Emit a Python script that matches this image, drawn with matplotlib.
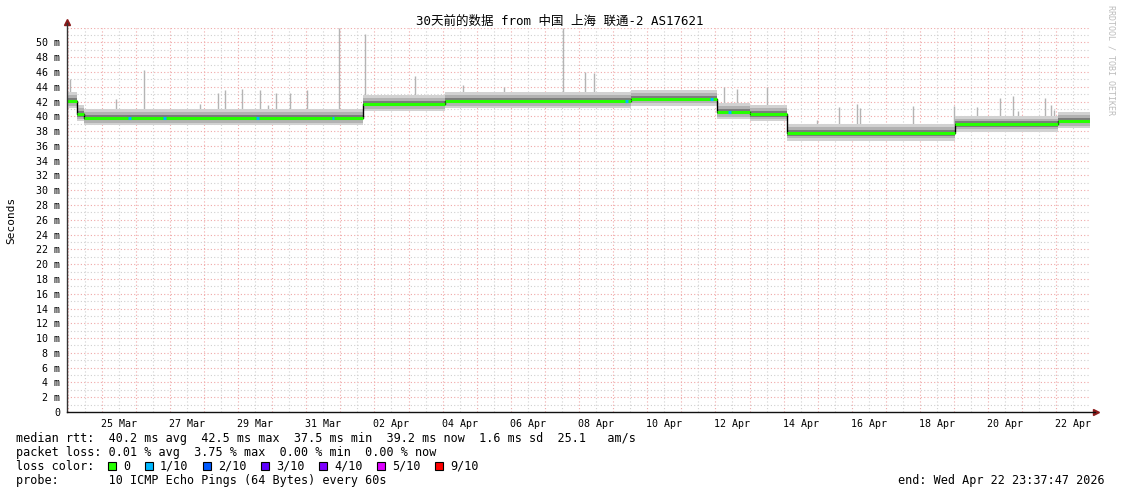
import matplotlib
matplotlib.use('Agg')
import matplotlib.pyplot as plt
import matplotlib.dates as mdates
from matplotlib.patches import Rectangle
from datetime import datetime, timedelta
import numpy as np

# fontes: monoespaçada + fallback CJK para o título
plt.rcParams['font.family'] = ['DejaVu Sans Mono', 'Noto Sans CJK SC']

W, H = 1121, 494
inicio = datetime(2026, 3, 23, 23, 37, 47)
dias_total = 30

# mediana em degraus: dia (a partir do início) e valor em ms
seg_dia = [0.0, 0.30, 0.50, 8.68, 11.08, 16.53, 19.05, 20.04, 21.10, 26.04, 29.06]
seg_mediana = [42.1, 40.3, 39.8, 41.7, 42.1, 42.4, 40.6, 40.3, 37.7, 38.9, 39.4]

# picos isolados (dia, ms)
pico_dia = [0.08, 1.45, 2.27, 3.91, 4.44, 4.64, 5.14, 5.67, 5.90, 6.13, 6.54, 7.04,
            7.98, 8.74, 10.20, 11.61, 12.81, 14.54, 15.18, 15.45, 19.28, 19.66,
            20.54, 22.00, 22.65, 23.18, 23.26, 24.81, 26.02, 26.69, 27.36, 27.74,
            27.89, 28.68, 28.86, 28.94]
pico_ms = [45.0, 42.3, 46.2, 41.6, 43.2, 43.5, 43.7, 43.5, 41.5, 43.1, 43.1, 43.5,
           52.0, 51.1, 45.5, 44.2, 44.0, 52.0, 46.0, 45.8, 44.0, 43.7,
           44.0, 39.5, 41.2, 41.7, 41.1, 41.4, 41.4, 41.2, 42.5, 42.8,
           40.7, 42.5, 41.5, 40.8]

# pontos com perda 1/10
perda_dia = [1.83, 2.86, 5.58, 7.80, 16.41, 18.90, 19.43]

cores_perda = ['#26ff00', '#00b8ff', '#0059ff', '#5e00ff', '#7e00ff', '#dd00ff', '#ff0000']
nomes_perda = ['0', '1/10', '2/10', '3/10', '4/10', '5/10', '9/10']


def para_data(d):
    return mdates.date2num(inicio + timedelta(days=d))


def mediana_em(d):
    return seg_mediana[np.searchsorted(seg_dia, d, side='right') - 1]


fig = plt.figure(figsize=(W / 100, H / 100), dpi=100)
ax = fig.add_axes([67 / W, (H - 412) / H, 1023 / W, 384.4 / H])

x_bordas = np.array([para_data(d) for d in seg_dia + [dias_total]])
med = np.array(seg_mediana + [seg_mediana[-1]])

# picos (atrás da fumaça)
ax.vlines([para_data(d) for d in pico_dia], [mediana_em(d) for d in pico_dia], pico_ms,
          color='#b4b4b4', lw=1, zorder=1)

# fumaça
ax.fill_between(x_bordas, med - 1.0, med + 1.2, step='post', color='#d2d2d2', lw=0, zorder=2)
ax.fill_between(x_bordas, med - 0.65, med + 0.8, step='post', color='#b2b2b2', lw=0, zorder=3)
ax.fill_between(x_bordas, med - 0.35, med + 0.4, step='post', color='#7c7c7c', lw=0, zorder=4)

# mediana: linha preta + segmentos verdes
ax.step(x_bordas, med, where='post', color='black', lw=1, zorder=5)
ax.hlines(seg_mediana, x_bordas[:-1], x_bordas[1:], color=cores_perda[0], lw=2.2, zorder=6)
for d in perda_dia:
    m = mediana_em(d)
    ax.hlines(m, para_data(d - 0.04), para_data(d + 0.04), color=cores_perda[1], lw=2.2, zorder=7)

ax.set_xlim(para_data(0), para_data(dias_total))
ax.set_ylim(0, 52)

# grade
for d in range(24, 54):
    dt = datetime(2026, 3, 1) + timedelta(days=d - 1)
    ax.axvline(mdates.date2num(dt), color='#f0a8a8', lw=0.8, ls=(0, (1, 2)), zorder=0)
    ax.axvline(mdates.date2num(dt + timedelta(hours=12)), color='#d0d0d0', lw=0.8, ls=(0, (1, 2)), zorder=0)
for v in range(1, 53):
    cor = '#f0a8a8' if v % 2 == 0 else '#d0d0d0'
    ax.axhline(v, color=cor, lw=0.8, ls=(0, (1, 2)), zorder=0)

# eixos
for s in ax.spines.values():
    s.set_visible(False)
ax.plot([0, 0], [0, 1.012], transform=ax.transAxes, color='#333333', lw=1, clip_on=False, zorder=8)
ax.plot([0, 1.005], [0, 0], transform=ax.transAxes, color='#111111', lw=1, clip_on=False, zorder=8)
ax.plot([0], [1.015], transform=ax.transAxes, marker='^', ms=5, color='#8b1a1a', clip_on=False)
ax.plot([1.006], [0], transform=ax.transAxes, marker='>', ms=5, color='#8b1a1a', clip_on=False)

yt = list(range(0, 52, 2))
ax.set_yticks(yt)
ax.set_yticklabels(['0' if v == 0 else f'{v} m' for v in yt], fontsize=7.2)
rot = [datetime(2026, 3, 25, 12) + timedelta(days=2 * k) for k in range(15)]
ax.set_xticks([mdates.date2num(r) for r in rot])
ax.set_xticklabels([r.strftime('%d %b') for r in rot], fontsize=7.2)
ax.tick_params(axis='both', length=0, pad=5)
fig.text(11 / W, 1 - 220 / H, 'Seconds', rotation=90, ha='center', va='center', fontsize=8)

# título
fig.text(560 / W, 1 - 21 / H, '30天前的数据 from 中国 上海 联通-2 AS17621',
         ha='center', va='center', fontsize=9)

# marca d'água
fig.text(1111 / W, 1 - 60 / H, 'RRDTOOL / TOBI OETIKER', rotation=270,
         ha='center', va='center', fontsize=6, color='#bcbcbc')

# legenda inferior
fs = 8.5
fig.text(16 / W, 1 - 438 / H,
         'median rtt:  40.2 ms avg  42.5 ms max  37.5 ms min  39.2 ms now  1.6 ms sd  25.1   am/s',
         va='center', fontsize=fs)
fig.text(16 / W, 1 - 452 / H,
         'packet loss: 0.01 % avg  3.75 % max  0.00 % min  0.00 % now',
         va='center', fontsize=fs)
fig.text(16 / W, 1 - 466 / H, 'loss color:', va='center', fontsize=fs)
quad_x = [108, 145, 203, 261, 319, 377, 435]
for qx, cor, nome in zip(quad_x, cores_perda, nomes_perda):
    fig.add_artist(Rectangle((qx / W, (H - 466 - 4) / H), 8 / W, 8 / H,
                             transform=fig.transFigure, facecolor=cor,
                             edgecolor='black', lw=0.8))
    fig.text((qx + 15) / W, 1 - 466 / H, nome, va='center', fontsize=fs)
fig.text(16 / W, 1 - 480 / H,
         'probe:       10 ICMP Echo Pings (64 Bytes) every 60s',
         va='center', fontsize=fs)
fig.text(1105 / W, 1 - 480 / H, 'end: Wed Apr 22 23:37:47 2026',
         ha='right', va='center', fontsize=fs)

fig.savefig('out.png', dpi=100)
